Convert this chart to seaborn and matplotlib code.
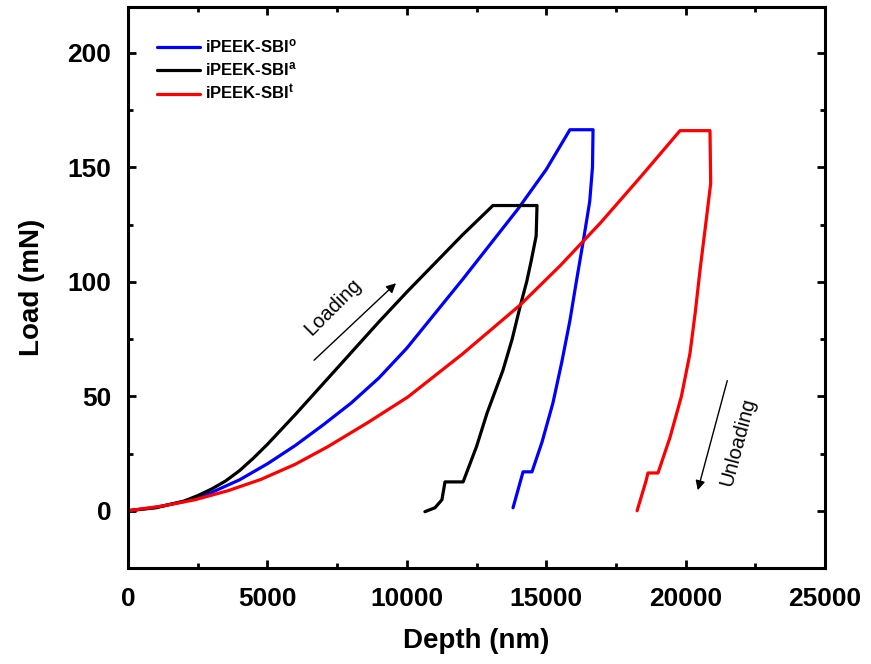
import matplotlib
matplotlib.use("Agg")
import matplotlib.pyplot as plt
import seaborn as sns
import pandas as pd
from matplotlib.ticker import MultipleLocator

# ---- data ----
blue_depth = [0, 1000, 2000, 3000, 4000, 5000, 6000, 7000, 8000, 9000, 10000,
              11000, 12000, 13000, 14000, 15000, 15850,
              16680, 16660, 16560, 16360, 16080, 15850, 15560, 15240, 14850, 14490,
              14170, 13810]
blue_load = [0, 1.5, 4, 8, 13.5, 20.5, 28.5, 37.5, 47, 58, 71,
             86, 101, 116.5, 132, 149, 166.4,
             166.4, 150, 135, 120, 100, 83, 65, 47, 30, 17,
             17, 1.3]

black_depth = [0, 1000, 2000, 2500, 3000, 3500, 4000, 4500, 5000, 6000, 7000, 8000,
               9000, 10000, 11000, 12000, 13090,
               14670, 14640, 14460, 14300, 14060, 13780, 13450, 12880, 12500, 12020,
               11370, 11260, 11010, 10650]
black_load = [0, 1.3, 4.2, 6.6, 9.5, 13, 17.5, 23, 29, 42, 55.5, 69,
              82.5, 95.5, 108, 120.5, 133.3,
              133.3, 120, 109, 100, 89, 75, 61.4, 42.7, 28, 12.6,
              12.6, 4.8, 1.3, -0.4]

red_depth = [0, 1200, 2400, 3600, 4770, 6000, 7170, 8600, 10040, 12000, 14060,
             15500, 16930, 18400, 19800,
             20875, 20900, 20720, 20516, 20350, 20158, 19850, 19440, 19010,
             18650, 18580, 18260]
red_load = [0, 2, 4.8, 8.8, 13.7, 20.3, 28, 38.5, 49.7, 68.5, 89.8,
            107, 125.5, 146, 166,
            166, 143, 125, 105, 87, 68.8, 50, 32, 16.5,
            16.5, 13, 0]

labels = [r"iPEEK-SBI$^{\mathbf{o}}$", r"iPEEK-SBI$^{\mathbf{a}}$", r"iPEEK-SBI$^{\mathbf{t}}$"]
colors = ["#0000ff", "#000000", "#ff0000"]

x_ticks = [0, 5000, 10000, 15000, 20000, 25000]
y_ticks = [0, 50, 100, 150, 200]

# ---- style ----
sns.set_style("ticks")
plt.rcParams["font.family"] = ["Liberation Sans", "DejaVu Sans"]
plt.rcParams["mathtext.fontset"] = "custom"
plt.rcParams["mathtext.rm"] = "Liberation Sans:bold"
plt.rcParams["mathtext.bf"] = "Liberation Sans:bold"
plt.rcParams["mathtext.it"] = "Liberation Sans:bold"
for k in ["text.color", "axes.labelcolor", "xtick.color", "ytick.color", "axes.edgecolor"]:
    plt.rcParams[k] = "black"

frames = []
for lab, d, l in zip(labels, [blue_depth, black_depth, red_depth],
                     [blue_load, black_load, red_load]):
    frames.append(pd.DataFrame({"Depth": d, "Load": l, "Sample": lab}))
df = pd.concat(frames, ignore_index=True)

fig = plt.figure(figsize=(8.71, 6.64), dpi=100)
ax = fig.add_axes([128 / 871, 1 - 568 / 664, (825 - 128) / 871, (568 - 7) / 664])

sns.lineplot(data=df, x="Depth", y="Load", hue="Sample", sort=False,
             palette=colors, hue_order=labels, linewidth=2.3, ax=ax,
             estimator=None)

ax.set_xlim(0, 25000)
ax.set_ylim(-25, 220)
ax.set_xticks(x_ticks)
ax.set_yticks(y_ticks)
ax.xaxis.set_minor_locator(MultipleLocator(2500))
ax.yaxis.set_minor_locator(MultipleLocator(25))
ax.tick_params(which="both", direction="in", top=True, right=True, width=2)
ax.tick_params(which="major", length=6)
ax.tick_params(which="minor", length=3.5)
ax.tick_params(axis="x", which="major", pad=14)
ax.tick_params(axis="y", which="major", pad=12)
for t in ax.get_xticklabels() + ax.get_yticklabels():
    t.set_fontweight("bold")
    t.set_fontsize(19)
for s in ax.spines.values():
    s.set_linewidth(2.2)

ax.set_xlabel("Depth (nm)", fontsize=20, fontweight="bold", labelpad=12)
ax.set_ylabel("Load (mN)", fontsize=20, fontweight="bold", labelpad=16)

leg = ax.legend(loc="upper left", bbox_to_anchor=(0.02, 0.972), frameon=False,
                handlelength=2.6, handletextpad=0.3, labelspacing=0.28,
                prop={"family": "Liberation Sans", "weight": "bold", "size": 12})
for h in leg.get_lines():
    h.set_linewidth(2.3)

# annotations
ax.annotate("", xy=(9685, 100.2), xytext=(6600, 64.9),
            arrowprops=dict(arrowstyle="-|>", lw=1, color="black", mutation_scale=14))
ax.text(7353, 88.9, "Loading", rotation=45, fontsize=14.5, ha="center", va="center",
        rotation_mode="anchor")
ax.annotate("", xy=(20410, 7.8), xytext=(21520, 58),
            arrowprops=dict(arrowstyle="-|>", lw=1, color="black", mutation_scale=14))
ax.text(21880, 30, "Unloading", rotation=75, fontsize=14.5, ha="center", va="center",
        rotation_mode="anchor")

fig.savefig("out.png", dpi=100)
